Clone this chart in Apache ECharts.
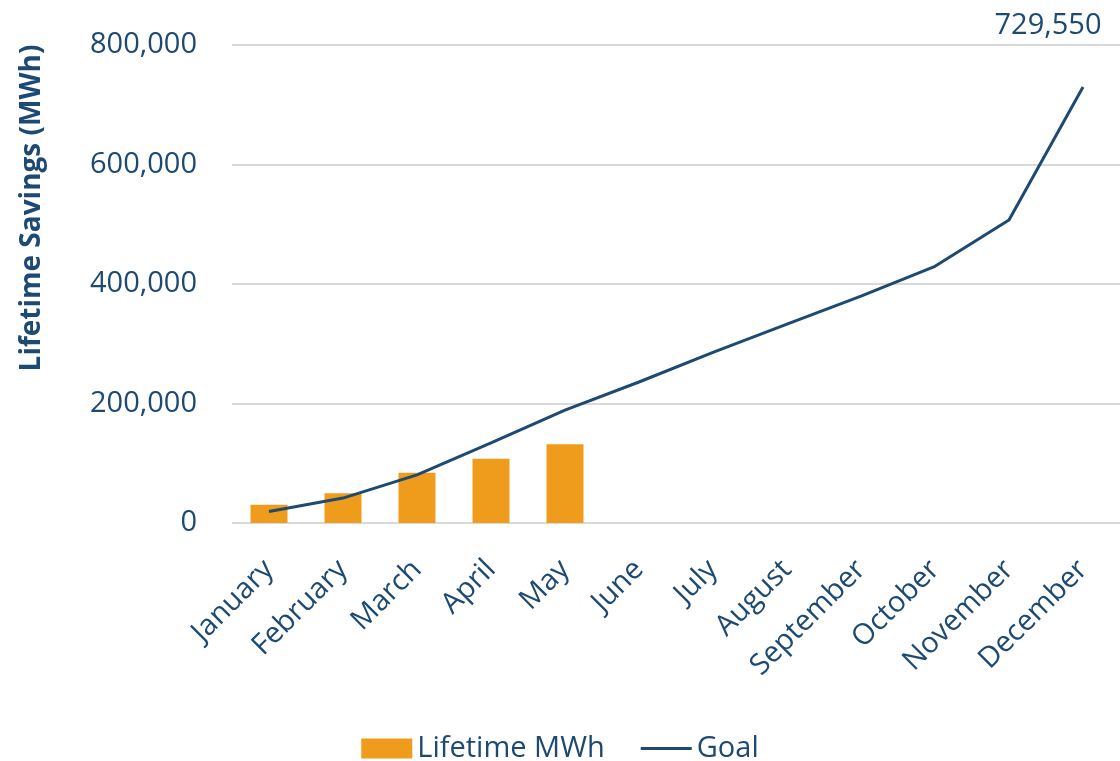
<!DOCTYPE html>
<html>
<head>
<meta charset="utf-8">
<script src="https://cdn.jsdelivr.net/npm/echarts@6/dist/echarts.min.js"></script>
<style>html,body{margin:0;padding:0;background:#fff;}#c{width:1120px;height:761px;}</style>
</head>
<body>
<div id="c"></div>
<script>
const months = ["January","February","March","April","May","June","July","August","September","October","November","December"];
const lifetimeMWh = [30500, 50000, 84300, 107700, 131700, null, null, null, null, null, null, null];
const goal = [19300, 41700, 80500, 134000, 188800, 236000, 285700, 333000, 379800, 429600, 507000, 729550];
const yTicks = [0, 200000, 400000, 600000, 800000];

const blue = '#1d4a73';
const font = 'Open Sans';
const chart = echarts.init(document.getElementById('c'));

chart.setOption({
  animation: false,
  textStyle: {fontFamily: font},
  grid: {left: 232, right: 0, top: 45, bottom: 238, containLabel: false},
  legend: {
    bottom: -7, left: 'center', itemWidth: 51, itemHeight: 20, itemGap: 36,
    textStyle: {color: blue, fontFamily: font, fontSize: 29},
    data: [
      {name: 'Lifetime MWh', icon: 'rect'},
      {name: 'Goal', icon: 'path://M0,0 L0.01,0 L0.01,0.01 Z M0,8.5 L53,8.5 L53,11.5 L0,11.5 Z M0,19.99 L0.01,19.99 L0.01,20 Z',
        itemStyle: {color: blue}}
    ]
  },
  xAxis: {
    type: 'category', data: months,
    axisTick: {show: false}, axisLine: {show: false},
    axisLabel: {rotate: 45, color: blue, fontFamily: font, fontSize: 29, margin: 42, interval: 0}
  },
  yAxis: {
    type: 'value', min: yTicks[0], max: yTicks[yTicks.length - 1], interval: 200000,
    axisLine: {show: false}, axisTick: {show: false},
    splitLine: {lineStyle: {color: '#d9d9d9', width: 2}},
    axisLabel: {color: blue, fontFamily: font, fontSize: 29, margin: 35,
      formatter: v => v.toLocaleString('en-US')}
  },
  graphic: [{
    type: 'text', x: 32, y: 208, rotation: Math.PI / 2,
    style: {text: 'Lifetime Savings (MWh)', fill: blue, font: 'bold 28px "Open Sans"',
      textAlign: 'center', textVerticalAlign: 'middle'}
  }],
  series: [
    {name: 'Lifetime MWh', type: 'bar', data: lifetimeMWh, barWidth: '50%',
      itemStyle: {color: '#EF9B1B'}},
    {name: 'Goal', type: 'line', data: goal, symbol: 'none', showSymbol: false,
      lineStyle: {color: blue, width: 3}, itemStyle: {color: blue},
      markPoint: {
        symbol: 'circle', symbolSize: 0,
        data: [{type: 'max'}],
        label: {show: true, position: 'top', offset: [-35, -42], color: blue, fontFamily: font, fontSize: 29,
          formatter: p => p.value.toLocaleString('en-US')}
      }}
  ]
});
</script>
</body>
</html>
